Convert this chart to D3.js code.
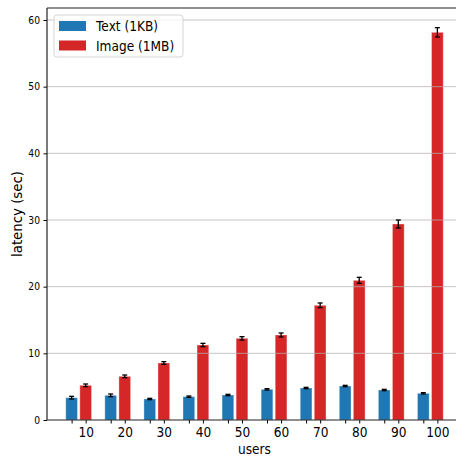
<!DOCTYPE html>
<html>
<head>
<meta charset="utf-8">
<script src="https://cdn.jsdelivr.net/npm/d3@7"></script>
<style>
  html, body { margin: 0; padding: 0; background: #fff; }
  svg { display: block; font-family: "DejaVu Sans", sans-serif; }
</style>
</head>
<body>
<svg id="chart" width="456" height="458"></svg>
<script>
// Latency per number of concurrent users, for two payload sizes
const users = [10, 20, 30, 40, 50, 60, 70, 80, 90, 100];
const textLatency = [3.35, 3.7, 3.15, 3.5, 3.75, 4.6, 4.8, 5.1, 4.5, 4.0];
const textError = [0.2, 0.2, 0.1, 0.1, 0.1, 0.1, 0.1, 0.1, 0.1, 0.1];
const imageLatency = [5.2, 6.55, 8.55, 11.25, 12.25, 12.75, 17.2, 20.95, 29.4, 58.15];
const imageError = [0.2, 0.2, 0.2, 0.25, 0.25, 0.3, 0.35, 0.45, 0.6, 0.7];
const yTicks = [0, 10, 20, 30, 40, 50, 60];
const seriesNames = ["Text (1KB)", "Image (1MB)"];
const seriesColors = ["#1f77b4", "#d62728"];

const barWidth = 0.3;
const offset = 0.36;
// horizontal glyph squeeze applied to horizontal text
const squeezeFactor = 0.89;

function squeeze(sel) {
  sel.each(function () {
    const w = this.getComputedTextLength();
    if (w > 0) {
      d3.select(this).attr("textLength", w * squeezeFactor).attr("lengthAdjust", "spacingAndGlyphs");
    }
  });
}

const svg = d3.select("#chart");
const margin = { left: 47, top: 8, bottom: 420 };
const plotRight = 462;

const x = d3.scaleLinear().domain([-0.63, 9.99]).range([margin.left, plotRight]);
const y = d3.scaleLinear().domain([0, 61.8]).range([margin.bottom, margin.top]);

const plot = svg.append("g");

const series = [
  { name: seriesNames[0], values: textLatency, err: textError, color: seriesColors[0], shift: 0 },
  { name: seriesNames[1], values: imageLatency, err: imageError, color: seriesColors[1], shift: offset }
];

// Bars
series.forEach(s => {
  plot.append("g").selectAll("rect")
    .data(s.values)
    .join("rect")
    .attr("x", (d, i) => x(i + s.shift - barWidth / 2))
    .attr("width", x(barWidth) - x(0))
    .attr("y", d => y(d))
    .attr("height", d => y(0) - y(d))
    .attr("fill", s.color)
    .attr("stroke", "#ffffff")
    .attr("stroke-opacity", 0.35)
    .attr("stroke-width", 1);
});

// Horizontal grid lines, drawn over the bars
plot.append("g").selectAll("line")
  .data(yTicks.filter(t => t > 0))
  .join("line")
  .attr("x1", margin.left).attr("x2", plotRight)
  .attr("y1", d => y(d)).attr("y2", d => y(d))
  .attr("stroke", "#b0b0b0")
  .attr("stroke-opacity", 0.75)
  .attr("stroke-width", 1);

// Error bars
series.forEach(s => {
  const g = plot.append("g").attr("stroke", "#000").attr("stroke-width", 1.3);
  s.values.forEach((v, i) => {
    const cx = x(i + s.shift);
    const lo = y(v - s.err[i]), hi = y(v + s.err[i]);
    g.append("line").attr("x1", cx).attr("x2", cx).attr("y1", lo).attr("y2", hi);
    g.append("line").attr("x1", cx - 2.5).attr("x2", cx + 2.5).attr("y1", lo).attr("y2", lo);
    g.append("line").attr("x1", cx - 2.5).attr("x2", cx + 2.5).attr("y1", hi).attr("y2", hi);
  });
});

// Y axis
const yAxis = d3.axisLeft(y).tickValues(yTicks).tickSize(3.5).tickPadding(3.5);
const yg = svg.append("g").attr("transform", `translate(${margin.left},0)`).call(yAxis);
yg.select(".domain").remove();
yg.selectAll("text").attr("font-size", 10.3).attr("fill", "#000").attr("font-family", "DejaVu Sans");
yg.selectAll("line").attr("stroke", "#000");

// X axis: ticks under both bars, labels under the image bars
const xTickPos = [];
const xTickLabel = [];
users.forEach((u, i) => {
  xTickPos.push(i); xTickLabel.push("");
  xTickPos.push(i + offset); xTickLabel.push(String(u));
});
const xAxis = d3.axisBottom(x).tickValues(xTickPos)
  .tickFormat((d, i) => xTickLabel[i]).tickSize(3.5).tickPadding(3.5);
const xg = svg.append("g").attr("transform", `translate(0,${margin.bottom})`).call(xAxis);
xg.select(".domain").remove();
xg.selectAll("text").attr("font-size", 13.7).attr("fill", "#000").attr("font-family", "DejaVu Sans");
xg.selectAll("line").attr("stroke", "#000");

// Frame
const spine = svg.append("g").attr("stroke", "#222").attr("stroke-width", 1.2).attr("fill", "none");
spine.append("line").attr("x1", margin.left).attr("x2", margin.left).attr("y1", margin.top).attr("y2", margin.bottom);
spine.append("line").attr("x1", margin.left).attr("x2", plotRight).attr("y1", margin.bottom).attr("y2", margin.bottom);
spine.append("line").attr("x1", margin.left).attr("x2", plotRight).attr("y1", margin.top).attr("y2", margin.top);
spine.append("line").attr("x1", plotRight).attr("x2", plotRight).attr("y1", margin.top).attr("y2", margin.bottom);

// Axis titles
const xTitle = svg.append("text")
  .attr("x", (margin.left + plotRight) / 2).attr("y", 454)
  .attr("text-anchor", "middle").attr("font-size", 13.7).text("users");
svg.append("text")
  .attr("transform", `translate(21.5,${(margin.top + margin.bottom) / 2}) rotate(-90)`)
  .attr("text-anchor", "middle").attr("font-size", 13.3).text("latency (sec)");

// Legend
const legend = svg.append("g").attr("transform", "translate(54,15)");
legend.append("rect")
  .attr("width", 129).attr("height", 42).attr("rx", 3)
  .attr("fill", "#fff").attr("fill-opacity", 0.8)
  .attr("stroke", "#d6d6d6").attr("stroke-width", 1);
const legendTexts = [];
series.forEach((s, i) => {
  const row = legend.append("g").attr("transform", `translate(5,${6 + i * 19.5})`);
  row.append("rect").attr("width", 27).attr("height", 10).attr("fill", s.color);
  legendTexts.push(row.append("text").attr("x", 37).attr("y", 10).attr("font-size", 13.7).text(s.name).node());
});

squeeze(yg.selectAll("text"));
squeeze(xg.selectAll("text"));
squeeze(xTitle);
squeeze(d3.selectAll(legendTexts));
</script>
</body>
</html>
